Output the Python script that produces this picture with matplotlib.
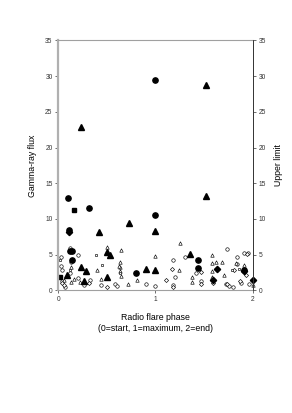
import matplotlib
matplotlib.use("Agg")
import matplotlib.pyplot as plt

plt.rcParams['font.family'] = ['Liberation Sans', 'DejaVu Sans']

# detections (filled) and upper limits (open), x = radio flare phase
det_circle_x = [0.10, 0.32, 1.00, 1.00, 0.11, 0.12, 0.14, 0.14, 0.80, 1.44, 1.44, 1.91]
det_circle_y = [12.9, 11.6, 29.5, 10.5, 8.4, 5.5, 5.5, 4.2, 2.4, 4.2, 3.1, 2.9]

det_tri_x = [0.23, 1.52, 1.52, 0.42, 0.73, 1.00, 0.50, 0.53, 1.35, 0.24, 0.29, 0.09, 0.27, 0.50, 0.90, 1.00]
det_tri_y = [22.9, 28.8, 13.2, 8.2, 9.4, 8.3, 5.4, 4.9, 5.1, 3.2, 2.7, 2.2, 1.25, 1.85, 3.0, 2.8]

det_sq_x = [0.16, 0.02]
det_sq_y = [11.3, 1.9]

det_dia_x = [0.11, 1.63, 1.59, 1.91, 2.00]
det_dia_y = [8.2, 3.0, 1.45, 2.7, 1.45]

ul_circle_x = [0.03, 0.03, 0.04, 0.04, 0.07, 0.12, 0.13, 0.12, 0.20, 0.20, 0.27, 0.33, 0.44, 0.58,
               0.90, 1.00, 1.18, 1.20, 1.18, 1.30, 1.42, 1.47, 1.72, 1.73, 1.84, 1.84, 1.80, 1.91,
               1.95, 1.96, 0.60, 1.75, 1.88]
ul_circle_y = [4.6, 3.4, 2.9, 1.3, 0.5, 6.0, 4.0, 2.4, 1.7, 4.9, 0.75, 1.45, 0.8, 0.84,
               0.93, 0.6, 4.2, 1.8, 0.7, 4.6, 2.4, 1.3, 0.93, 5.8, 4.6, 3.7, 0.5, 5.2,
               5.2, 0.84, 0.6, 0.6, 1.0]

ul_tri_x = [0.13, 0.16, 0.13, 0.50, 0.65, 0.64, 0.64, 0.64, 0.65, 0.40, 0.44, 0.72, 0.81, 1.00,
            1.25, 1.24, 1.37, 1.38, 1.58, 1.58, 1.62, 1.68, 1.58, 1.58, 1.70, 1.83, 1.91, 2.00,
            0.63, 0.06, 0.22]
ul_tri_y = [3.2, 1.6, 1.2, 6.1, 5.6, 3.9, 3.2, 2.7, 2.0, 2.9, 1.6, 0.85, 1.4, 4.8,
            6.7, 2.9, 1.9, 1.1, 4.9, 3.8, 4.0, 3.9, 2.7, 1.9, 2.1, 3.8, 3.5, 0.7,
            3.4, 1.5, 1.2]

ul_dia_x = [0.04, 0.50, 1.11, 1.17, 1.18, 1.47, 1.47, 1.59, 1.73, 1.81, 1.87, 1.93, 1.94, 0.32, 0.06]
ul_dia_y = [1.0, 0.5, 1.5, 3.0, 0.5, 2.6, 0.84, 1.0, 0.84, 2.9, 1.35, 2.2, 5.1, 1.0, 0.7]

ul_sq_x = [0.02, 0.39, 0.45, 0.12, 0.64, 1.79, 1.86]
ul_sq_y = [4.3, 5.0, 3.6, 2.9, 2.4, 2.9, 3.0]

fig = plt.figure(figsize=(2.92, 4.13), dpi=100)
ax = fig.add_axes([0.199, 0.297, 0.667, 0.605])

open_kw = dict(linestyle='none', mfc='white', mec='black', mew=0.45, ms=2.5, clip_on=False)
ax.plot(ul_circle_x, ul_circle_y, marker='o', **open_kw)
ax.plot(ul_tri_x, ul_tri_y, marker='^', **open_kw)
ax.plot(ul_dia_x, ul_dia_y, marker='D', **dict(open_kw, ms=2.1))
ax.plot(ul_sq_x, ul_sq_y, marker='s', **dict(open_kw, ms=1.9))

fill_kw = dict(linestyle='none', color='black', clip_on=False)
ax.plot(det_circle_x, det_circle_y, marker='o', ms=3.8, **fill_kw)
ax.plot(det_tri_x, det_tri_y, marker='^', ms=3.9, **fill_kw)
ax.plot(det_sq_x, det_sq_y, marker='s', ms=3.2, **fill_kw)
ax.plot(det_dia_x, det_dia_y, marker='D', ms=3.2, **fill_kw)

ax.set_xlim(0, 2)
ax.set_ylim(0, 35)
ax.set_xticks([0, 1, 2])
ax.set_yticks(range(0, 36, 5))
ax.tick_params(labelsize=4.8, length=2, width=0.5, pad=2, colors='#333333')

for side in ['top', 'bottom']:
    ax.spines[side].set_color('#a0a0a0')
    ax.spines[side].set_linewidth(0.8)
ax.spines['left'].set_color('#b0b0b0')
ax.spines['left'].set_linewidth(1.6)
ax.spines['right'].set_color('#333333')
ax.spines['right'].set_linewidth(0.6)

ax.set_ylabel("Gamma-ray flux", fontsize=6.3, labelpad=6)
ax.set_xlabel("Radio flare phase\n(0=start, 1=maximum, 2=end)", fontsize=6.3, labelpad=7,
              linespacing=1.3)

ax2 = ax.twinx()
ax2.set_ylim(0, 35)
ax2.set_yticks(range(0, 36, 5))
ax2.tick_params(labelsize=4.8, length=2, width=0.5, pad=2, colors='#333333')
for side in ['top', 'bottom', 'left']:
    ax2.spines[side].set_visible(False)
ax2.spines['right'].set_color('#333333')
ax2.spines['right'].set_linewidth(0.6)
ax2.set_ylabel("Upper limit", fontsize=6.3, labelpad=6)

fig.savefig("out.png", dpi=100)
